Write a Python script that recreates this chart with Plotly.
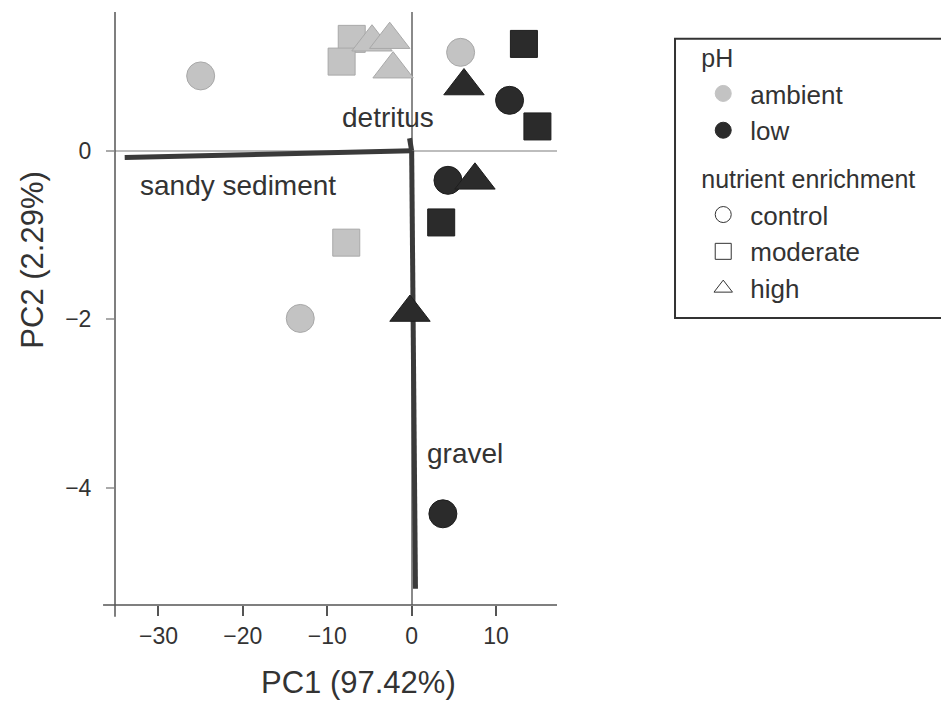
import plotly.graph_objects as go

# ---------------- data ----------------
amb_control_x = [-25.0, 5.8, -13.2]
amb_control_y = [0.89, 1.17, -1.99]
amb_moderate_x = [-7.1, -8.3, -7.75]
amb_moderate_y = [1.33, 1.06, -1.09]
amb_high_x = [-4.7, -2.6, -2.2]
amb_high_y = [1.29, 1.32, 0.97]

low_control_x = [11.6, 4.3, 3.7]
low_control_y = [0.60, -0.35, -4.31]
low_moderate_x = [13.3, 14.9, 3.5]
low_moderate_y = [1.27, 0.29, -0.85]
low_high_x = [6.2, 7.5, -0.2]
low_high_y = [0.77, -0.35, -1.92]

vec_names = ["sandy sediment", "detritus", "gravel"]
vec_x = [-34.0, -0.25, 0.45]
vec_y = [-0.08, 0.15, -5.2]
vec_label_x = [-20.6, -2.8, 6.3]
vec_label_y = [-0.41, 0.40, -3.59]

x_ticks = [-30, -20, -10, 0, 10]
y_ticks = [-4, -2, 0]
x_title = "PC1 (97.42%)"
y_title = "PC2 (2.29%)"

AMB = "#c3c3c3"
LOW = "#2b2b2b"
FONT = "Liberation Sans, Arial, Helvetica, sans-serif"
TXT = "#333333"

fig = go.Figure()

# biplot vectors
for vx, vy in zip(vec_x, vec_y):
    fig.add_trace(go.Scatter(x=[0, vx], y=[0, vy], mode="lines",
                             line=dict(color="#3a3a3a", width=5),
                             showlegend=False, hoverinfo="skip"))

sizes = {"circle": 28, "square": 27, "triangle-up": 35}
groups = [
    (amb_moderate_x, amb_moderate_y, AMB, "square"),
    (amb_control_x, amb_control_y, AMB, "circle"),
    (amb_high_x, amb_high_y, AMB, "triangle-up"),
    (low_control_x, low_control_y, LOW, "circle"),
    (low_moderate_x, low_moderate_y, LOW, "square"),
    (low_high_x, low_high_y, LOW, "triangle-up"),
]
for gx, gy, col, sym in groups:
    edge = "#a8a8a8" if col == AMB else "#1e1e1e"
    fig.add_trace(go.Scatter(x=gx, y=gy, mode="markers",
                             marker=dict(symbol=sym, size=sizes[sym], color=col,
                                         line=dict(color=edge, width=1)),
                             showlegend=False))

# legend entries
for name, col in [("ambient", AMB), ("low", LOW)]:
    fig.add_trace(go.Scatter(x=[None], y=[None], mode="markers", name=name,
                             legendgroup="ph", legendgrouptitle_text="pH",
                             marker=dict(symbol="circle", size=18, color=col,
                                         line=dict(color=col, width=1))))
for name, sym in [("control", "circle-open"), ("moderate", "square-open"),
                  ("high", "triangle-up-open")]:
    fig.add_trace(go.Scatter(x=[None], y=[None], mode="markers", name=name,
                             legendgroup="nut",
                             legendgrouptitle_text="nutrient enrichment",
                             marker=dict(symbol=sym, size=18, color="#333333",
                                         line=dict(color="#333333", width=1))))

# vector labels
for t, lx, ly in zip(vec_names, vec_label_x, vec_label_y):
    fig.add_annotation(x=lx, y=ly, text=t, showarrow=False,
                       font=dict(family=FONT, size=28, color=TXT))

# axis titles
fig.add_annotation(xref="paper", yref="paper", x=0.552, y=-0.131, text=x_title,
                   xanchor="center", yanchor="middle",
                   showarrow=False, font=dict(family=FONT, size=31, color=TXT))
fig.add_annotation(xref="paper", yref="paper", x=-0.186, y=0.582, text=y_title,
                   xanchor="center", yanchor="middle",
                   textangle=-90, showarrow=False,
                   font=dict(family=FONT, size=31, color=TXT))

# axis lines (crossing at the corner) and legend frame
fig.add_shape(type="line", xref="paper", yref="paper", x0=-0.027, x1=1.0,
              y0=0, y1=0, line=dict(color="#555555", width=1.5))
fig.add_shape(type="line", xref="paper", yref="paper", x0=0, x1=0,
              y0=-0.02, y1=1.0, line=dict(color="#555555", width=1.5))
fig.add_shape(type="rect", xref="paper", yref="paper", x0=1.267, x1=1.9,
              y0=0.484, y1=0.955, line=dict(color="#333333", width=2),
              fillcolor="rgba(0,0,0,0)")

fig.update_layout(
    width=941, height=704, autosize=False,
    margin=dict(l=115, r=384, t=12, b=99),
    paper_bgcolor="white", plot_bgcolor="white",
    font=dict(family=FONT, color=TXT),
    legend=dict(x=1.315, y=0.962, xanchor="left", yanchor="top",
                traceorder="grouped", tracegroupgap=12, itemwidth=44,
                font=dict(family=FONT, size=26, color=TXT),
                grouptitlefont=dict(family=FONT, size=25, color=TXT),
                bgcolor="rgba(0,0,0,0)", borderwidth=0),
)
fig.update_xaxes(range=[-35.15, 17.22], tickmode="array", tickvals=x_ticks,
                 ticks="outside", ticklen=10, tickcolor="#555555", tickwidth=1.5,
                 showgrid=False, showline=False,
                 zeroline=True, zerolinecolor="#8a8a8a", zerolinewidth=1.5,
                 tickfont=dict(family=FONT, size=23, color=TXT))
fig.update_yaxes(range=[-5.393, 1.649], tickmode="array", tickvals=y_ticks,
                 ticks="outside", ticklen=8, tickcolor="#aaaaaa", tickwidth=1.5,
                 ticklabelstandoff=10,
                 showgrid=False, showline=False,
                 zeroline=True, zerolinecolor="#bdbdbd", zerolinewidth=1.5,
                 tickfont=dict(family=FONT, size=23, color=TXT))

fig.write_html("out.html")
